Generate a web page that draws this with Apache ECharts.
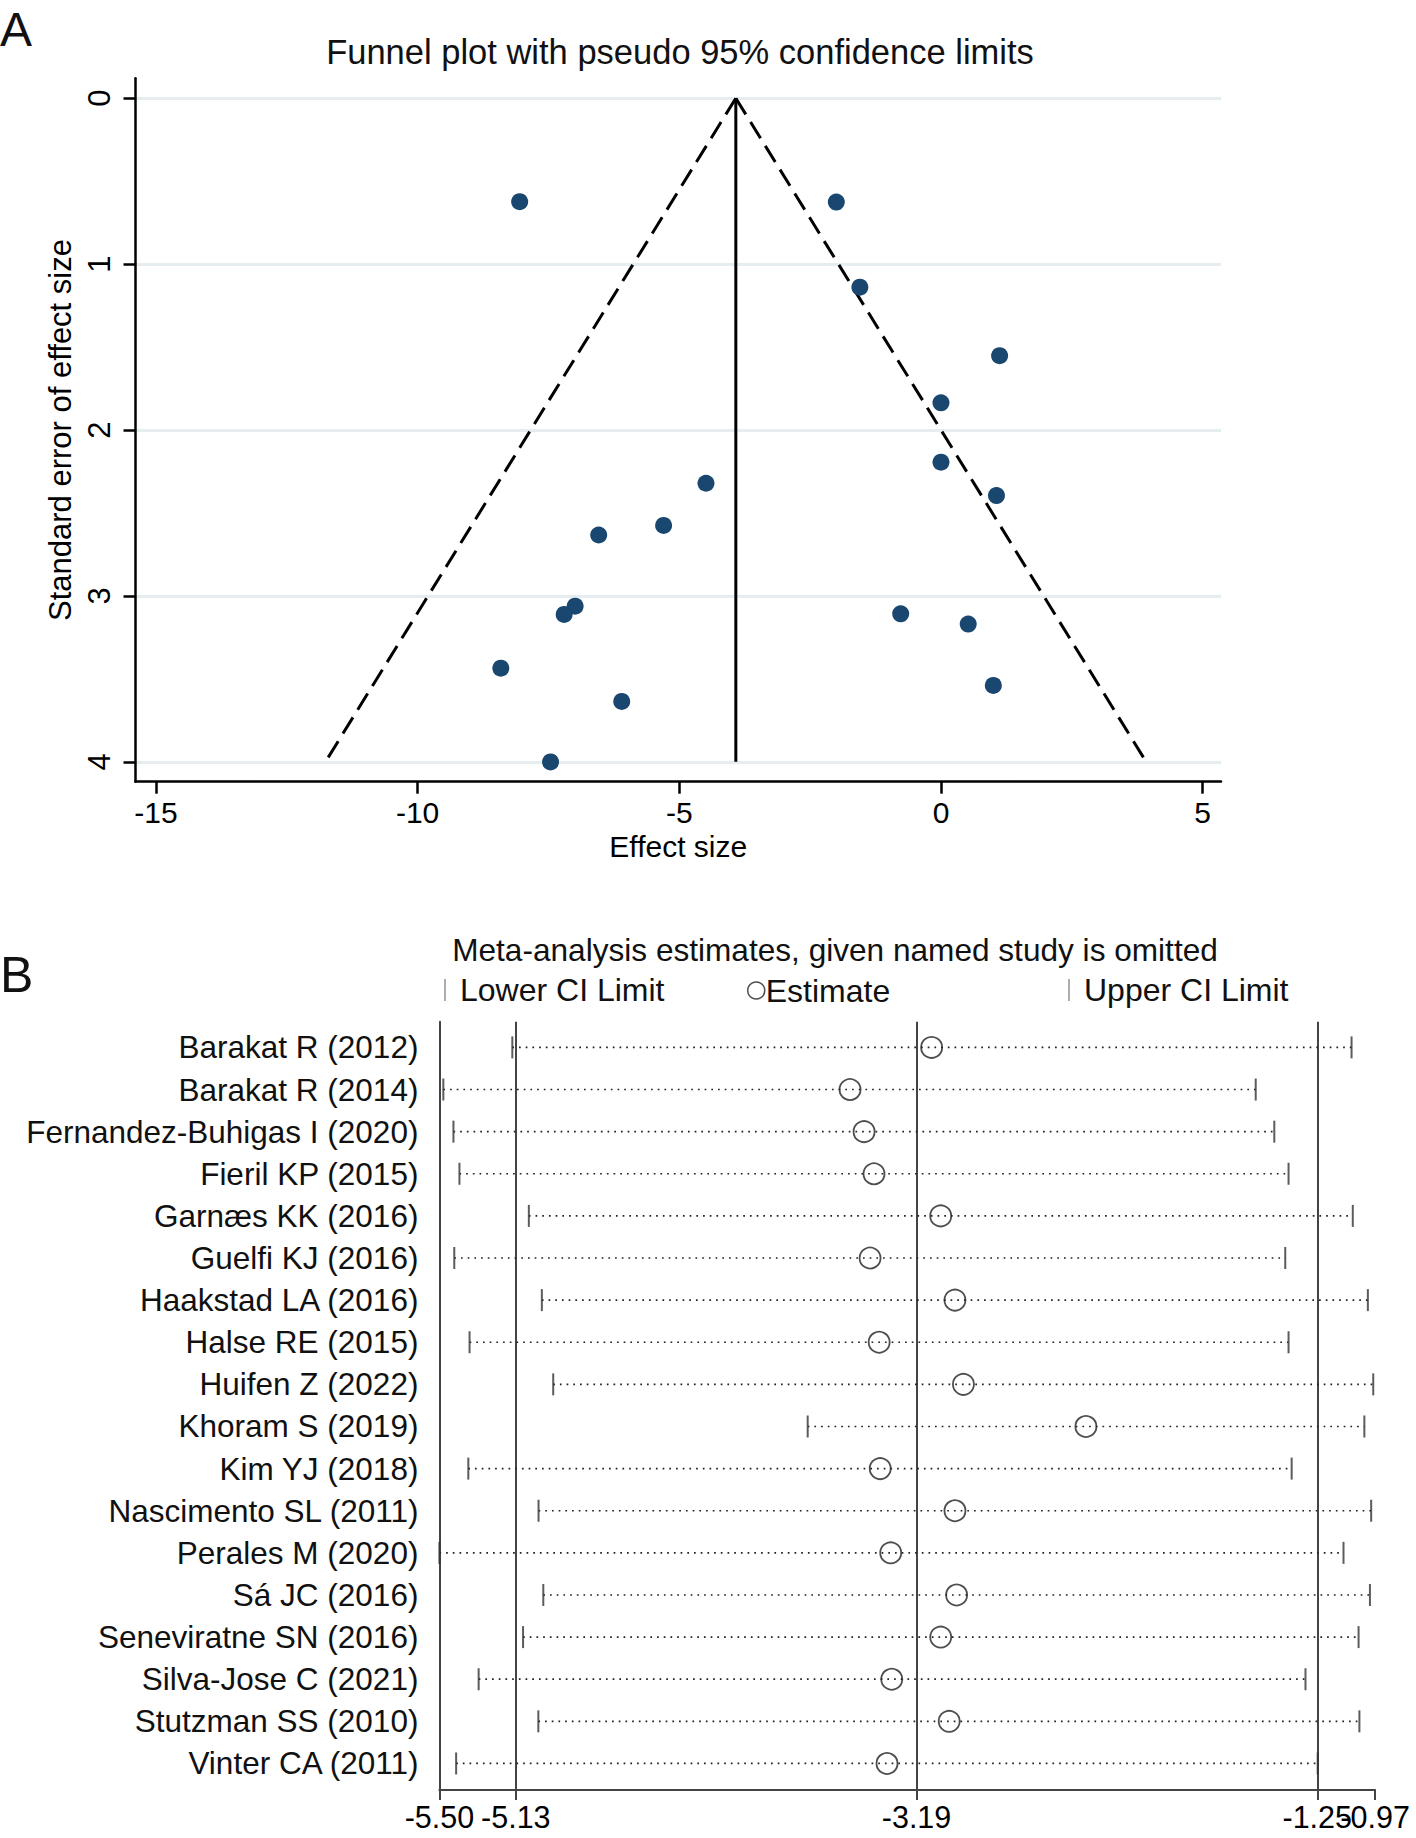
<!DOCTYPE html>
<html><head><meta charset="utf-8">
<script src="https://cdn.jsdelivr.net/npm/echarts@6/dist/echarts.min.js"></script>
<style>html,body{margin:0;padding:0;background:#fff}#c{width:1416px;height:1838px}</style>
</head><body><div id="c"></div>
<script>
// ---------- Panel A: funnel plot ----------
const effectSize = [-8.05, -2.00, -1.55, 1.12, 0.00, 0.00, 1.06, -4.49, -5.30, -6.54, -6.99, -7.20, -0.77, 0.52, -8.41, 1.00, -6.10, -7.46];
const seEffect   = [0.624, 0.626, 1.139, 1.552, 1.836, 2.194, 2.395, 2.321, 2.575, 2.633, 3.062, 3.112, 3.108, 3.170, 3.436, 3.540, 3.636, 4.001];
const funnelLeft  = [[-3.92, 0], [-11.76, 4.0]];
const funnelRight = [[-3.92, 0], [3.92, 4.0]];
const pooledLine  = [[-3.92, 0], [-3.92, 4.0]];
const xTicksA = [-15, -10, -5, 0, 5];
const yTicksA = [0, 1, 2, 3, 4];

// ---------- Panel B: leave-one-out ----------
const studies = ['Barakat R (2012)','Barakat R (2014)','Fernandez-Buhigas I (2020)','Fieril KP (2015)','Garnæs KK (2016)','Guelfi KJ (2016)','Haakstad LA (2016)','Halse RE (2015)','Huifen Z (2022)','Khoram S (2019)','Kim YJ (2018)','Nascimento SL (2011)','Perales M (2020)','Sá JC (2016)','Seneviratne SN (2016)','Silva-Jose C (2021)','Stutzman SS (2010)','Vinter CA (2011)'];
const lowerCI  = [-5.147, -5.481, -5.432, -5.403, -5.067, -5.428, -5.004, -5.354, -4.949, -3.717, -5.360, -5.020, -5.500, -4.997, -5.095, -5.310, -5.021, -5.419];
const estimate = [-3.117, -3.512, -3.444, -3.396, -3.073, -3.415, -3.004, -3.371, -2.963, -2.370, -3.366, -3.004, -3.315, -2.996, -3.073, -3.310, -3.032, -3.333];
const upperCI  = [-1.084, -1.548, -1.458, -1.389, -1.078, -1.405, -1.005, -1.389, -0.979, -1.022, -1.374, -0.989, -1.123, -0.995, -1.050, -1.307, -1.046, -1.248];
const refLines = [-5.13, -3.19, -1.25];
const xTicksB  = [-5.50, -5.13, -3.19, -1.25];
const xTickBMax = [-0.97];

const FONT = 'Liberation Sans, Arial, Helvetica, sans-serif';
const chart = echarts.init(document.getElementById('c'), null, {renderer: 'svg'});

const bLabel = {fontSize: 30.5, color: '#000', margin: 11, fontFamily: FONT, showMinLabel: true, showMaxLabel: true, hideOverlap: false,
                formatter: v => Number(v).toFixed(2)};

const option = {
  animation: false,
  backgroundColor: '#fff',
  textStyle: {fontFamily: FONT},
  graphic: [
    {type: 'text', x: 0, y: 29, style: {text: 'A', fontSize: 48, fontFamily: FONT, fill: '#111', align: 'left', verticalAlign: 'middle'}},
    {type: 'text', x: 680, y: 52, style: {text: 'Funnel plot with pseudo 95% confidence limits', fontSize: 34.5, fontFamily: FONT, fill: '#111', align: 'center', verticalAlign: 'middle'}},
    {type: 'text', x: 0, y: 975, style: {text: 'B', fontSize: 50, fontFamily: FONT, fill: '#111', align: 'left', verticalAlign: 'middle'}},
    {type: 'text', x: 835, y: 950, style: {text: 'Meta-analysis estimates, given named study is omitted', fontSize: 31.6, fontFamily: FONT, fill: '#111', align: 'center', verticalAlign: 'middle'}}
  ],
  legend: [
    {data: [{name: 'Lower CI Limit', icon: 'rect', itemStyle: {color: '#999', borderWidth: 0}}], left: 444, top: 974, padding: 0, itemWidth: 2, itemHeight: 22, selectedMode: false,
     textStyle: {fontSize: 32, color: '#111', fontFamily: FONT, padding: [0, 0, 0, 9]}},
    {data: [{name: 'Estimate', icon: 'circle', itemStyle: {color: 'rgba(0,0,0,0)', borderColor: '#222', borderWidth: 1.5}}], left: 747, top: 974.5, padding: 0, itemWidth: 17, itemHeight: 17, selectedMode: false,
     textStyle: {fontSize: 32, color: '#111', fontFamily: FONT, padding: [0, 0, 0, -4]}},
    {data: [{name: 'Upper CI Limit', icon: 'rect', itemStyle: {color: '#999', borderWidth: 0}}], left: 1068, top: 974, padding: 0, itemWidth: 2, itemHeight: 22, selectedMode: false,
     textStyle: {fontSize: 32, color: '#111', fontFamily: FONT, padding: [0, 0, 0, 9]}}
  ],
  grid: [
    {left: 135.5, top: 78.3, width: 1085.5, height: 703.4},
    {left: 439.4, top: 1021.7, width: 935.7, height: 768.3}
  ],
  xAxis: [
    {type: 'value', gridIndex: 0, min: -15.39, max: 5.35,
     axisLine: {show: true, onZero: false, lineStyle: {color: '#000', width: 2.5}},
     axisTick: {show: true, inside: false, length: 12, customValues: xTicksA, lineStyle: {color: '#000', width: 2.5}},
     axisLabel: {customValues: xTicksA, fontSize: 30, color: '#000', margin: 16, fontFamily: FONT, showMinLabel: true, showMaxLabel: true},
     splitLine: {show: false},
     name: 'Effect size', nameLocation: 'middle', nameGap: 50,
     nameTextStyle: {fontSize: 30, color: '#000', fontFamily: FONT}},
    {type: 'value', gridIndex: 1, position: 'bottom', min: -5.50, max: -0.97,
     axisLine: {show: true, onZero: false, lineStyle: {color: '#444', width: 2}},
     axisTick: {show: true, inside: false, length: 10, customValues: xTicksB, lineStyle: {color: '#444', width: 2}},
     axisLabel: Object.assign({customValues: xTicksB}, bLabel),
     splitLine: {show: false}},
    {type: 'value', gridIndex: 1, position: 'bottom', offset: 0, min: -5.50, max: -0.97,
     axisLine: {show: false, onZero: false},
     axisTick: {show: true, inside: false, length: 10, customValues: xTickBMax, lineStyle: {color: '#444', width: 2}},
     axisLabel: Object.assign({customValues: xTickBMax}, bLabel),
     splitLine: {show: false}}
  ],
  yAxis: [
    {type: 'value', gridIndex: 0, inverse: true, min: -0.12, max: 4.12,
     axisLine: {show: true, onZero: false, lineStyle: {color: '#000', width: 2.5}},
     axisTick: {show: true, inside: false, length: 12, customValues: yTicksA, lineStyle: {color: '#000', width: 2.5}},
     axisLabel: {customValues: yTicksA, rotate: 90, fontSize: 31, color: '#000', margin: 21, fontFamily: FONT, showMinLabel: true, showMaxLabel: true},
     splitLine: {show: false},
     name: 'Standard error of effect size', nameLocation: 'middle', nameGap: 58, nameRotate: 90,
     nameTextStyle: {fontSize: 31, color: '#000', fontFamily: FONT}},
    {type: 'value', gridIndex: 1, inverse: true, min: -0.61, max: 17.63,
     axisLine: {show: true, onZero: false, lineStyle: {color: '#444', width: 2}},
     axisTick: {show: false}, axisLabel: {show: false}, splitLine: {show: false}}
  ],
  series: [
    // Panel A gridlines
    {type: 'line', xAxisIndex: 0, yAxisIndex: 0, data: [], silent: true, z: 0,
     markLine: {z: 0, silent: true, symbol: 'none', label: {show: false},
       lineStyle: {color: '#e5edf0', width: 3, type: 'solid'},
       data: yTicksA.map(v => ({yAxis: v}))}},
    {type: 'line', name: 'funnelLeft', xAxisIndex: 0, yAxisIndex: 0, data: funnelLeft, showSymbol: false, symbol: 'none', z: 3,
     lineStyle: {color: '#000', width: 3, type: [19, 9]}},
    {type: 'line', name: 'funnelRight', xAxisIndex: 0, yAxisIndex: 0, data: funnelRight, showSymbol: false, symbol: 'none', z: 3,
     lineStyle: {color: '#000', width: 3, type: [19, 9]}},
    {type: 'line', name: 'pooled', xAxisIndex: 0, yAxisIndex: 0, data: pooledLine, showSymbol: false, symbol: 'none', z: 3,
     lineStyle: {color: '#000', width: 3, type: 'solid'}},
    {type: 'scatter', name: 'Studies', xAxisIndex: 0, yAxisIndex: 0, z: 4,
     data: effectSize.map((x, i) => [x, seEffect[i]]),
     symbol: 'circle', symbolSize: 17, itemStyle: {color: '#1a476f', opacity: 1}},

    // Panel B dotted ranges + reference lines
    {type: 'custom', name: 'range', xAxisIndex: 1, yAxisIndex: 1, z: 2, silent: true,
     data: studies.map((s, i) => [lowerCI[i], upperCI[i], i]),
     encode: {x: [0, 1], y: 2},
     renderItem: (params, api) => {
       const p1 = api.coord([api.value(0), api.value(2)]);
       const p2 = api.coord([api.value(1), api.value(2)]);
       return {type: 'line', shape: {x1: p1[0], y1: p1[1], x2: p2[0], y2: p2[1]},
               style: {stroke: '#222', lineWidth: 1.7, lineDash: [1.7, 5]}};
     },
     markLine: {z: 1, silent: true, symbol: 'none', label: {show: false},
       lineStyle: {color: '#444', width: 2, type: 'solid'},
       data: refLines.map(v => ({xAxis: v}))}},
    {type: 'scatter', name: 'Lower CI Limit', xAxisIndex: 1, yAxisIndex: 1, z: 3,
     data: studies.map((s, i) => [lowerCI[i], i]),
     symbol: 'rect', symbolSize: [2, 22], itemStyle: {color: '#333'}},
    {type: 'scatter', name: 'Estimate', xAxisIndex: 1, yAxisIndex: 1, z: 3,
     data: studies.map((s, i) => [estimate[i], i]),
     symbol: 'circle', symbolSize: 21, itemStyle: {color: 'rgba(0,0,0,0)', borderColor: '#222', borderWidth: 1.8}},
    {type: 'scatter', name: 'Upper CI Limit', xAxisIndex: 1, yAxisIndex: 1, z: 3,
     data: studies.map((s, i) => [upperCI[i], i]),
     symbol: 'rect', symbolSize: [2, 22], itemStyle: {color: '#333'}},
    // Panel B study labels
    {type: 'custom', name: 'labels', xAxisIndex: 1, yAxisIndex: 1, z: 3, silent: true,
     data: studies.map((s, i) => [xTicksB[0], i]),
     encode: {x: 0, y: 1},
     renderItem: (params, api) => {
       const p = api.coord([api.value(0), api.value(1)]);
       return {type: 'text', x: p[0] - 21, y: p[1],
               style: {text: studies[params.dataIndex], fontSize: 31.5, fontFamily: FONT, fill: '#111', align: 'right', verticalAlign: 'middle'}};
     }}
  ]
};
chart.setOption(option);
</script>
</body></html>
